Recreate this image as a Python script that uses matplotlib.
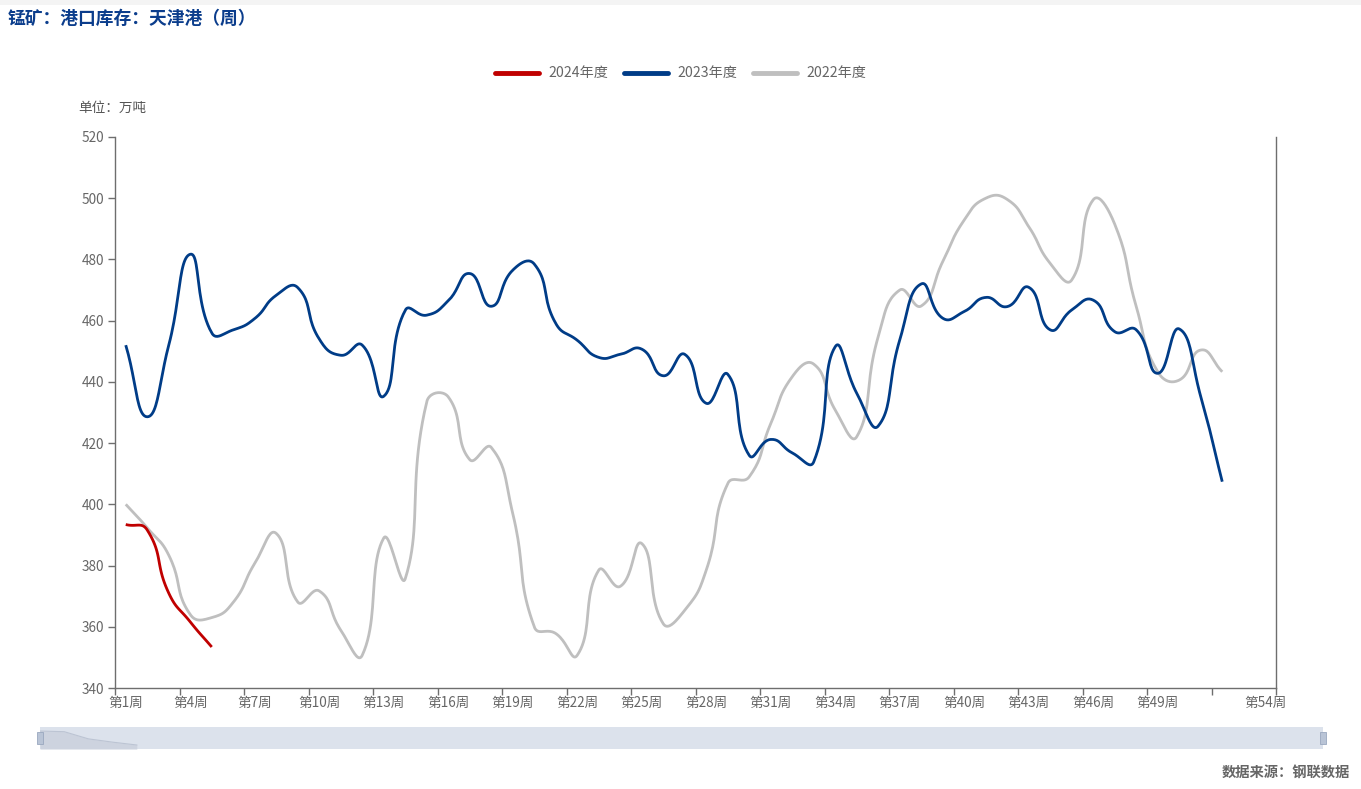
import numpy as np
import matplotlib
matplotlib.use("Agg")
import matplotlib.pyplot as plt
from matplotlib.patches import Rectangle
from matplotlib.lines import Line2D

plt.rcParams['font.family'] = ['Noto Sans CJK SC', 'DejaVu Sans']

# ---------------- data ----------------
weeks = [f'第{i}周' for i in range(1, 55)]
y2024 = [393.4, 391.6, 371.0, 361.6, 353.4]
y2023 = [452.0, 428.6, 452.0, 481.7, 456.0, 457.0, 460.7, 468.3, 470.8, 454.0,
         448.7, 452.0, 435.3, 463.4, 461.8, 466.5, 475.4, 464.7, 476.5, 478.5,
         459.1, 453.6, 448.0, 449.0, 450.7, 442.0, 449.0, 433.0, 442.5, 416.0,
         421.2, 416.8, 413.9, 451.5, 436.3, 425.6, 453.7, 472.0, 460.8, 463.0,
         467.6, 464.6, 470.9, 457.0, 463.5, 466.7, 456.4, 457.0, 442.8, 457.3,
         435.2, 407.4]
y2022 = [400.0, 392.3, 383.4, 364.0, 363.0, 368.0, 380.7, 390.5, 368.1, 371.7,
         358.9, 350.7, 389.0, 375.7, 433.5, 435.1, 414.6, 418.6, 397.0, 360.0,
         357.8, 350.7, 378.5, 373.2, 387.2, 361.0, 365.4, 378.5, 406.8, 409.0,
         426.4, 441.7, 445.8, 430.8, 422.1, 454.8, 470.0, 464.8, 479.3, 492.9,
         500.0, 499.6, 490.7, 478.7, 473.3, 499.5, 491.5, 464.6, 443.3, 440.6,
         450.4, 443.3]
series_names = ['2024年度', '2023年度', '2022年度']
series_colors = ['#C00000', '#003C87', '#BFBFBF']
y_ticks = [340, 360, 380, 400, 420, 440, 460, 480, 500, 520]

W, H = 1361, 789
fig = plt.figure(figsize=(W / 100, H / 100), dpi=100)

# axes box in pixels
L, R, T, B = 115, 1276, 137, 688
ax = fig.add_axes([L / W, 1 - B / H, (R - L) / W, (B - T) / H])
ax.set_xlim(0.5, len(weeks) + 0.5)
ax.set_ylim(y_ticks[0], y_ticks[-1])

# pixel scale for smoothing distances (echarts-like smooth)
sx = (R - L) / len(weeks)
sy = (B - T) / (y_ticks[-1] - y_ticks[0])


def smooth_curve(xs, ys, smooth=0.5, n=24):
    px = np.asarray(xs, float) * sx
    py = np.asarray(ys, float) * sy
    m = len(px)
    cps = []
    for i in range(m):
        prev = max(i - 1, 0)
        nxt = min(i + 1, m - 1)
        vx = px[nxt] - px[prev]
        vy = py[nxt] - py[prev]
        lp = np.hypot(px[i] - px[prev], py[i] - py[prev])
        ln = np.hypot(px[nxt] - px[i], py[nxt] - py[i])
        r = ln / (ln + lp) if (ln + lp) > 0 else 0.5
        c0 = (px[i] - vx * smooth * (1 - r), py[i] - vy * smooth * (1 - r))
        c1 = (px[i] + vx * smooth * r, py[i] + vy * smooth * r)
        cps.append((c0, c1))
    outx, outy = [px[0]], [py[0]]
    t = np.linspace(0, 1, n)[1:]
    for i in range(m - 1):
        p0 = np.array([px[i], py[i]])
        p1 = np.array(cps[i][1])
        p2 = np.array(cps[i + 1][0])
        p3 = np.array([px[i + 1], py[i + 1]])
        for tt in t:
            q = ((1 - tt) ** 3) * p0 + 3 * ((1 - tt) ** 2) * tt * p1 + 3 * (1 - tt) * tt ** 2 * p2 + tt ** 3 * p3
            outx.append(q[0]); outy.append(q[1])
    return np.array(outx) / sx, np.array(outy) / sy


all_series = [y2024, y2023, y2022]
zorders = [5, 4, 3]
for vals, col, z in zip(all_series[::-1], series_colors[::-1], zorders[::-1]):
    xs = np.arange(1, len(vals) + 1)
    cx, cy = smooth_curve(xs, vals)
    ax.plot(cx, cy, color=col, lw=2.0, solid_capstyle='butt', zorder=z)

# axes styling
ax.spines['top'].set_visible(False)
axis_col = '#6E6E6E'
for s in ['left', 'right', 'bottom']:
    ax.spines[s].set_color(axis_col)
    ax.spines[s].set_linewidth(1.0)

ax.set_yticks(y_ticks)
ax.set_yticklabels([str(v) for v in y_ticks])
ax.tick_params(axis='y', direction='out', length=5, width=1, color=axis_col,
               labelcolor='#666666', labelsize=9.8, pad=3)

# category boundaries as ticks, labels at centers
bound = [0.5 + k for k in range(0, 52, 3)] + [len(weeks) + 0.5]
ax.set_xticks(bound)
ax.set_xticklabels([''] * len(bound))
ax.tick_params(axis='x', which='major', direction='out', length=5, width=1, color=axis_col)
lab_idx = list(range(0, 49, 3)) + [53]
ax.set_xticks([i + 1 for i in lab_idx], minor=True)
ax.set_xticklabels([weeks[i] for i in lab_idx], minor=True)
ax.tick_params(axis='x', which='minor', length=0, labelcolor='#666666', labelsize=9.8, pad=6)

# ---------------- texts ----------------
fig.patches.append(Rectangle((0, 1 - 5 / H), 1, 5 / H, transform=fig.transFigure,
                             facecolor='#F4F4F4', edgecolor='none'))
fig.text(8 / W, 1 - 19 / H, '锰矿：港口库存：天津港（周）', color='#0B3D8C',
         fontsize=12.8, fontweight='bold', va='center', ha='left')
fig.text(78 / W, 1 - 108 / H, '单位：万吨', color='#555555', fontsize=9.8,
         va='center', ha='left')
fig.text(1350 / W, 1 - 773 / H, '数据来源：钢联数据', color='#666666', fontsize=10.3,
         fontweight='bold', va='center', ha='right')

# legend (manual, echarts style)
leg_x = [493, 622, 751]
ly = 1 - 73 / H
for x0, name, col in zip(leg_x, series_names, series_colors):
    fig.add_artist(Line2D([(x0 + 2) / W, (x0 + 46) / W], [ly, ly], color=col, lw=3.5,
                          solid_capstyle='round', transform=fig.transFigure))
    fig.text((x0 + 55) / W, ly, name, color='#666666', fontsize=10.2, va='center', ha='left')

# data zoom slider
sl_L, sl_R, sl_T, sl_B = 40, 1323, 727, 749
sax = fig.add_axes([sl_L / W, 1 - sl_B / H, (sl_R - sl_L) / W, (sl_B - sl_T) / H])
sax.set_facecolor('#DCE2EC')
sax.set_xlim(0, len(weeks) - 1)
sax.set_ylim(342, 405)
sx_d = np.arange(len(y2024))
sax.fill_between(sx_d, y2024, 342, color='#CDD3DF', lw=0)
sax.plot(sx_d, y2024, color='#BCC4D3', lw=0.8)
sax.set_xticks([]); sax.set_yticks([])
for s in sax.spines.values():
    s.set_visible(False)
for hx in [sl_L, sl_R]:
    fig.patches.append(Rectangle(((hx - 3) / W, 1 - 744 / H), 6 / W, 12 / H,
                                 transform=fig.transFigure, facecolor='#B9C4D6',
                                 edgecolor='#9AA8BF', lw=0.6))

fig.savefig('out.png', dpi=100)
